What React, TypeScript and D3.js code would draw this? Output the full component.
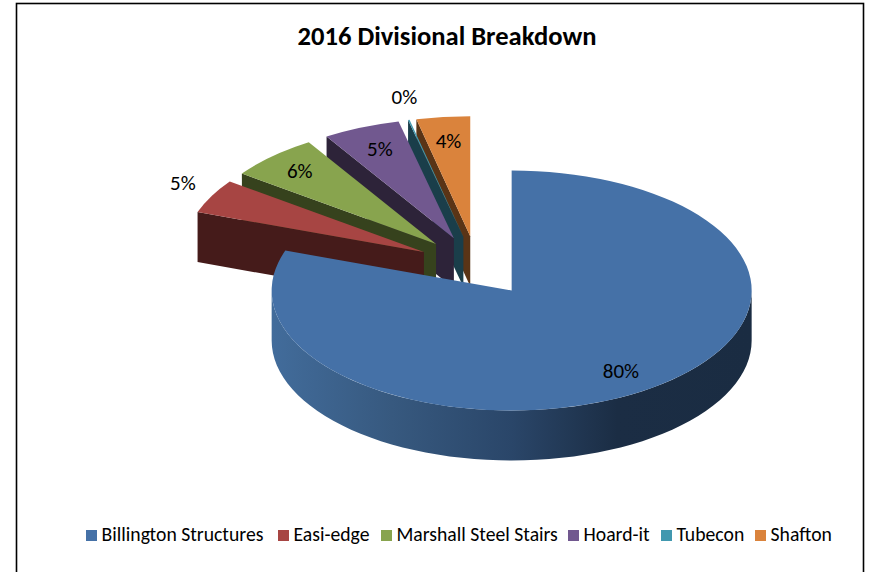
import React, { useEffect, useRef } from "react";
import * as d3 from "d3";

const categories = [
  "Billington Structures",
  "Easi-edge",
  "Marshall Steel Stairs",
  "Hoard-it",
  "Tubecon",
  "Shafton",
];
const shares = [80.4, 4.6, 6.1, 5.2, 0.1, 3.6];
const topColors = ["#4571a7", "#a74543", "#88a44e", "#71588f", "#4198af", "#da833c"];
const wallColors = ["#1b2d44", "#451b1a", "#36421d", "#2d2339", "#1a3e4a", "#5a3416"];
const legendX = [86, 278, 381, 568, 661, 755];

const font = "Carlito, Calibri, 'Open Sans', 'Noto Sans', sans-serif";
const rx = 240;
const ry = 120;
const depth = 50;
const cx = 477;
const cy = 266;
const explode = 30;

type Slice = d3.PieArcDatum<number>;

const App = (): JSX.Element => {
  const ref = useRef<SVGSVGElement>(null);

  useEffect(() => {
    const svg = d3.select(ref.current);
    svg.selectAll("*").remove();

    const pie = d3.pie<number>().sort(null)(shares);
    const arc = d3.arc<Slice>().innerRadius(0).outerRadius(rx);
    const toXY = (a: number, r = 1): [number, number] => [
      r * rx * Math.sin(a),
      -r * ry * Math.cos(a),
    ];
    const centre = (d: Slice): [number, number] => {
      const mid = (d.startAngle + d.endAngle) / 2;
      const [x, y] = toXY(mid, explode / ry);
      return [cx + x, cy + y];
    };

    // wall is drawn inside the slice group, so the gradient runs in its local x
    const grad = svg
      .append("defs")
      .append("linearGradient")
      .attr("id", "wall")
      .attr("gradientUnits", "userSpaceOnUse")
      .attr("x1", -rx)
      .attr("x2", rx)
      .attr("y1", 0)
      .attr("y2", 0);
    [
      [0, "#426c9b"],
      [0.25, "#37597f"],
      [0.5, "#2a4669"],
      [0.72, "#1b2d44"],
      [1, "#1a2c42"],
    ].forEach(([o, c]) => grad.append("stop").attr("offset", o).attr("stop-color", c));

    svg
      .append("rect")
      .attr("x", 16.5)
      .attr("y", 3.5)
      .attr("width", 847)
      .attr("height", 590)
      .attr("fill", "#fff")
      .attr("stroke", "#000")
      .attr("stroke-width", 1.6);

    svg
      .append("text")
      .attr("x", 447)
      .attr("y", 45)
      .attr("text-anchor", "middle")
      .style("font", `bold 26.6px ${font}`)
      .attr("fill", "#000")
      .text("2016 Divisional Breakdown");

    // back slices first, so each top face covers the cut wall of the one behind it
    pie
      .slice()
      .reverse()
      .forEach((d) => {
        const [x0, y0] = centre(d);
        const g = svg.append("g").attr("transform", `translate(${x0},${y0})`);
        if (d.index === 0) {
          // front rim of the big slice, from 3 o'clock round to 9 o'clock
          const path = d3.path();
          const steps = d3.range(0, 61).map((i) => (Math.PI / 2) * (1 + i / 30));
          steps.forEach((a, i) => {
            const [x, y] = toXY(a);
            if (i === 0) path.moveTo(x, y);
            else path.lineTo(x, y);
          });
          steps
            .slice()
            .reverse()
            .forEach((a) => {
              const [x, y] = toXY(a);
              path.lineTo(x, y + depth);
            });
          path.closePath();
          g.append("path").attr("d", path.toString()).attr("fill", "url(#wall)");
        } else {
          // cut wall on the start edge of the slice
          const [x, y] = toXY(d.startAngle);
          const wall = d3.path();
          wall.moveTo(0, 0);
          wall.lineTo(x, y);
          wall.lineTo(x, y + depth);
          wall.lineTo(0, depth);
          wall.closePath();
          g.append("path").attr("d", wall.toString()).attr("fill", wallColors[d.index]);
        }
        g.append("path")
          .attr("transform", `scale(1,${ry / rx})`)
          .attr("d", arc(d) as string)
          .attr("fill", topColors[d.index]);
      });

    // labels: fraction of radius along the slice middle, then a small nudge for the outside ones
    const labelR = [0.81, 1.12, 0.82, 0.8, 1.19, 0.8];
    const labelDx = [-3, -3, -2, 0, 6, 0];
    const labelDy = [1, -7, -1, -1, -1, 0];
    pie.forEach((d) => {
      const [x0, y0] = centre(d);
      const mid = (d.startAngle + d.endAngle) / 2;
      const [x, y] = toXY(mid, labelR[d.index]);
      svg
        .append("text")
        .attr("x", x0 + x + labelDx[d.index])
        .attr("y", y0 + y + labelDy[d.index])
        .attr("text-anchor", "middle")
        .attr("dominant-baseline", "central")
        .style("font", `21px ${font}`)
        .attr("fill", "#000")
        .text(`${Math.round(d.data)}%`);
    });

    categories.forEach((name, i) => {
      svg
        .append("rect")
        .attr("x", legendX[i])
        .attr("y", 530)
        .attr("width", 11)
        .attr("height", 11)
        .attr("fill", topColors[i]);
      svg
        .append("text")
        .attr("x", legendX[i] + 15.5)
        .attr("y", 541)
        .style("font", `19.7px ${font}`)
        .attr("fill", "#000")
        .text(name);
    });
  }, []);

  return (
    <svg
      ref={ref}
      width={870}
      height={572}
      style={{ position: "fixed", left: 0, top: 0, background: "#fff" }}
    />
  );
};

export default App;
